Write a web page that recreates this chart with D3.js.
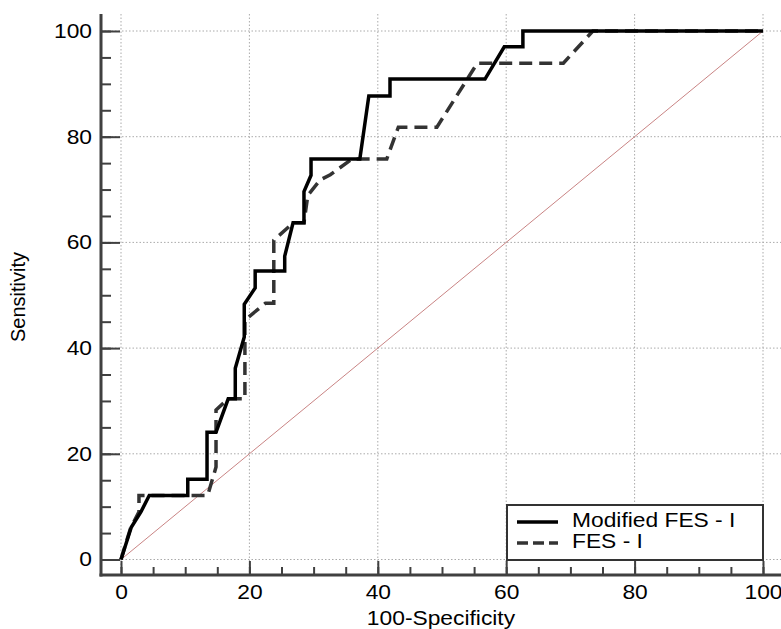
<!DOCTYPE html>
<meta charset="utf-8">
<style>
body { margin: 0; background: #fff; }
text { font-family: "Liberation Sans", Arial, sans-serif; fill: #000; }
.grid line { stroke: #aaa; stroke-width: 1; stroke-dasharray: 1.5,2; }
.axis path, .axis line { stroke: #404040; }
.axis path { stroke-width: 3; }
.axis line { stroke-width: 2; }
.axis text { font-size: 20px; fill: #000; }
</style>
<body>
<script src="https://cdn.jsdelivr.net/npm/d3@7"></script>
<script>

var width = 781,
    height = 629;

// Modified FES - I
var modX = [0, 1.6, 3.1, 4.4, 10.4, 10.4, 13.4, 13.4, 14.8, 16.7, 17.8, 17.8, 19.2, 19.2, 20.9, 20.9, 25.5, 25.5, 26.8, 28.5, 28.5, 29.6, 29.6, 37.2, 38.6, 41.9, 41.9, 56.7, 59.7, 62.6, 62.6, 100];
var modY = [0, 6.1, 9, 12.1, 12.1, 15.2, 15.2, 24.1, 24.1, 30.4, 30.4, 36.2, 42.1, 48.3, 51.4, 54.6, 54.6, 57.4, 63.7, 63.7, 69.6, 72.7, 75.8, 75.8, 87.7, 87.7, 90.9, 90.9, 97, 97, 100, 100];

// FES - I
var fesX = [0, 1.5, 2.8, 2.8, 13.5, 14.8, 14.8, 16.7, 19.3, 19.3, 22.5, 23.8, 23.8, 26.8, 28.5, 29.1, 31, 32.6, 36, 41.4, 43.2, 49.2, 55.5, 68.9, 73.5, 100];
var fesY = [0, 6, 9, 12.1, 12.1, 17.5, 28.3, 30.4, 30.4, 45.3, 48.5, 48.5, 60.4, 63.7, 63.7, 68.9, 71.8, 72.8, 75.8, 75.8, 81.8, 81.8, 93.9, 93.9, 100, 100];

var majorTicks = [0, 20, 40, 60, 80, 100];
var minorTicks = d3.range(0, 101, 5);
var seriesNames = ["Modified FES - I", "FES - I"];

var axisLeftX = 101, axisBottomY = 575, plotTop = 14;
var stretch = 1.14; // the original text is a little wide

var x = d3.scaleLinear().domain([0, 100]).range([121, 763]);
var y = d3.scaleLinear().domain([0, 100]).range([559.5, 31]);

var svg = d3.select("body").append("svg")
    .attr("width", width)
    .attr("height", height);

function widen(sel) {
  sel.attr("transform", function() {
    var tx = +this.getAttribute("x") || 0;
    return "translate(" + tx + ",0) scale(" + stretch + ",1) translate(" + (-tx) + ",0)";
  });
}

// grid
var grid = svg.append("g").attr("class", "grid");
grid.selectAll(".vg").data(majorTicks).enter().append("line")
    .attr("x1", function(d) { return x(d); }).attr("x2", function(d) { return x(d); })
    .attr("y1", plotTop).attr("y2", axisBottomY);
grid.selectAll(".hg").data(majorTicks).enter().append("line")
    .attr("y1", function(d) { return y(d); }).attr("y2", function(d) { return y(d); })
    .attr("x1", axisLeftX).attr("x2", width);

// diagonal reference
svg.append("line")
    .attr("x1", x(0)).attr("y1", y(0))
    .attr("x2", x(100)).attr("y2", y(100))
    .attr("stroke", "#c98484")
    .attr("stroke-width", 1);

// curves
var line = d3.line()
    .x(function(d) { return x(d[0]); })
    .y(function(d) { return y(d[1]); });

svg.append("path")
    .datum(d3.zip(fesX, fesY))
    .attr("fill", "none")
    .attr("stroke", "#333")
    .attr("stroke-width", 3.5)
    .attr("stroke-dasharray", "13,7")
    .attr("d", line);

svg.append("path")
    .datum(d3.zip(modX, modY))
    .attr("fill", "none")
    .attr("stroke", "#000")
    .attr("stroke-width", 3.5)
    .attr("d", line);

// axes: minor ticks, then major ticks with labels
var yShift = "translate(" + axisLeftX + ",0)",
    xShift = "translate(0," + axisBottomY + ")";

svg.append("g").attr("class", "axis").attr("transform", yShift)
    .call(d3.axisLeft(y).tickValues(minorTicks).tickSize(-10).tickFormat(""))
    .call(function(g) { g.select(".domain").remove(); });

svg.append("g").attr("class", "axis").attr("transform", xShift)
    .call(d3.axisBottom(x).tickValues(minorTicks).tickSize(-8).tickFormat(""))
    .call(function(g) { g.select(".domain").remove(); });

var yAxis = svg.append("g").attr("class", "axis").attr("transform", yShift)
    .call(d3.axisLeft(y).tickValues(majorTicks).tickSize(-19).tickPadding(9));
yAxis.select(".domain").remove();
yAxis.selectAll("text").call(widen);

var xAxis = svg.append("g").attr("class", "axis").attr("transform", xShift)
    .call(d3.axisBottom(x).tickValues(majorTicks).tickSize(-14).tickPadding(10));
xAxis.select(".domain").remove();
xAxis.selectAll("text").call(widen);

// axis lines
svg.append("line")
    .attr("x1", axisLeftX).attr("x2", axisLeftX)
    .attr("y1", plotTop).attr("y2", axisBottomY + 1.5)
    .attr("stroke", "#404040").attr("stroke-width", 3);
svg.append("line")
    .attr("x1", axisLeftX - 1.5).attr("x2", width)
    .attr("y1", axisBottomY).attr("y2", axisBottomY)
    .attr("stroke", "#404040").attr("stroke-width", 3);

// axis titles
svg.append("text")
    .attr("x", 441).attr("y", 625)
    .attr("text-anchor", "middle")
    .style("font-size", "20px")
    .text("100-Specificity")
    .call(widen);

svg.append("text")
    .attr("transform", "translate(25,297) rotate(-90)")
    .attr("text-anchor", "middle")
    .style("font-size", "20px")
    .text("Sensitivity");

// legend
var legend = svg.append("g").attr("transform", "translate(507,505)");
legend.append("rect")
    .attr("width", 256).attr("height", 55)
    .attr("fill", "#fff")
    .attr("stroke", "#333")
    .attr("stroke-width", 2);

var items = legend.selectAll(".item").data(seriesNames).enter().append("g")
    .attr("transform", function(d, i) { return "translate(0," + (17 + i * 21) + ")"; });

items.append("line")
    .attr("x1", 10).attr("x2", 51)
    .attr("stroke", function(d, i) { return i ? "#333" : "#000"; })
    .attr("stroke-width", 3.5)
    .attr("stroke-dasharray", function(d, i) { return i ? "11,5" : null; });

items.append("text")
    .attr("x", 65).attr("y", 5)
    .style("font-size", "20px")
    .text(function(d) { return d; })
    .call(widen);

</script>
